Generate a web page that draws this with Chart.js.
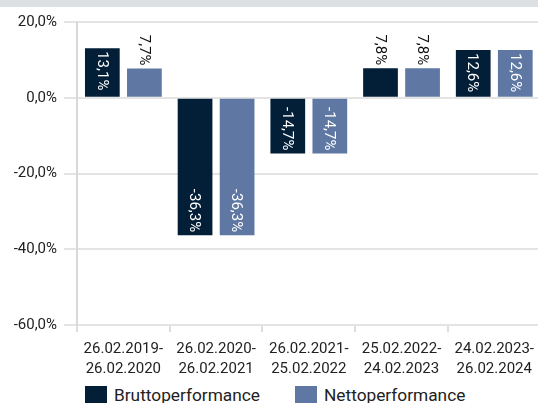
<!DOCTYPE html>
<html>
<head>
<meta charset="utf-8">
<script src="https://cdn.jsdelivr.net/npm/chart.js@4.4.0/dist/chart.umd.min.js"></script>
<style>
  html, body { margin: 0; padding: 0; background: #fff; overflow: hidden; }
  body { width: 538px; height: 403px; position: relative; font-family: Roboto, sans-serif; }
  .topbar { position: absolute; left: 0; top: 0; width: 538px; height: 7px; background: #dce0e3; z-index: 2; }
  .chart-box { position: absolute; left: 0; top: 0; width: 541px; height: 380px; }
  .legend-item { position: absolute; top: 386px; display: flex; align-items: flex-start; font-size: 17.3px; line-height: 17.3px; color: #222; white-space: nowrap; }
  .legend-box { width: 22px; height: 18px; margin-right: 7px; }
  .legend-txt { margin-top: 1px; }
</style>
</head>
<body>
<div class="topbar"></div>
<div class="chart-box"><canvas id="perfChart" width="541" height="380"></canvas></div>
<div id="legend"></div>
<script>
const periodos = [
  ['26.02.2019-', '26.02.2020'],
  ['26.02.2020-', '26.02.2021'],
  ['26.02.2021-', '25.02.2022'],
  ['25.02.2022-', '24.02.2023'],
  ['24.02.2023-', '26.02.2024']
];
const brutto = [13.1, -36.3, -14.7, 7.8, 12.6];
const netto = [7.7, -36.3, -14.7, 7.8, 12.6];
const serieNombres = ['Bruttoperformance', 'Nettoperformance'];
const colores = ['#031f38', '#5e78a3'];
const yMin = -60, yMax = 20, yPaso = 20;

function fmt(v) {
  return v.toFixed(1).replace('.', ',') + '%';
}

// etiquetas giradas en las barras
const barLabels = {
  id: 'barLabels',
  afterDatasetsDraw(chart) {
    const ctx = chart.ctx;
    ctx.save();
    ctx.font = '15px Roboto, sans-serif';
    ctx.textBaseline = 'middle';
    chart.data.datasets.forEach((ds, di) => {
      chart.getDatasetMeta(di).data.forEach((bar, i) => {
        const v = ds.data[i];
        const txt = fmt(v);
        const w = ctx.measureText(txt).width;
        const len = Math.abs(bar.base - bar.y);
        const pad = 3;
        const inside = w + 4 <= len;
        ctx.save();
        if (v >= 0) {
          ctx.fillStyle = inside ? '#fff' : '#111';
          ctx.translate(bar.x, inside ? bar.y + pad : bar.y - pad);
          ctx.rotate(Math.PI / 2);
          ctx.textAlign = inside ? 'left' : 'right';
        } else {
          ctx.fillStyle = inside ? '#fff' : '#111';
          ctx.translate(bar.x, inside ? bar.y - pad : bar.y + pad);
          ctx.rotate(Math.PI / 2);
          ctx.textAlign = inside ? 'right' : 'left';
        }
        ctx.fillText(txt, 0, 1);
        ctx.restore();
      });
    });
    ctx.restore();
  }
};

document.addEventListener('DOMContentLoaded', () => {
  const ctx = document.getElementById('perfChart').getContext('2d');
  new Chart(ctx, {
    type: 'bar',
    data: {
      labels: periodos,
      datasets: [
        { label: serieNombres[0], data: brutto, backgroundColor: colores[0] },
        { label: serieNombres[1], data: netto, backgroundColor: colores[1] }
      ]
    },
    options: {
      responsive: false,
      animation: false,
      devicePixelRatio: 1,
      layout: { padding: { top: 22, right: 0, left: 0, bottom: 0 } },
      datasets: { bar: { categoryPercentage: 0.907, barPercentage: 0.826 } },
      plugins: {
        legend: { display: false },
        tooltip: { enabled: false }
      },
      scales: {
        x: {
          grid: { offset: true, drawOnChartArea: false, tickLength: 7, color: '#dddddd', lineWidth: 2 },
          border: { display: false },
          ticks: { color: '#222', font: { family: 'Roboto', size: 15, lineHeight: '20px' }, padding: 7, maxRotation: 0, autoSkip: false },
          afterFit(scale) { scale.height = 55; }
        },
        y: {
          min: yMin,
          max: yMax,
          grid: { color: '#e4e4e4', lineWidth: 2, tickLength: 13 },
          border: { display: true, color: '#d9d9d9', width: 2 },
          ticks: {
            stepSize: yPaso,
            color: '#222',
            font: { family: 'Roboto', size: 15 },
            padding: 7,
            callback: function (value) { return value.toFixed(1).replace('.', ',') + '%'; }
          },
          afterFit(scale) { scale.width = 77; }
        }
      }
    },
    plugins: [barLabels]
  });

  const legend = document.getElementById('legend');
  const legendX = [85, 295];
  serieNombres.forEach((n, i) => {
    const item = document.createElement('div');
    item.className = 'legend-item';
    item.style.left = legendX[i] + 'px';
    item.innerHTML = '<span class="legend-box" style="background:' + colores[i] + '"></span><span class="legend-txt">' + n + '</span>';
    legend.appendChild(item);
  });
});
</script>
</body>
</html>
